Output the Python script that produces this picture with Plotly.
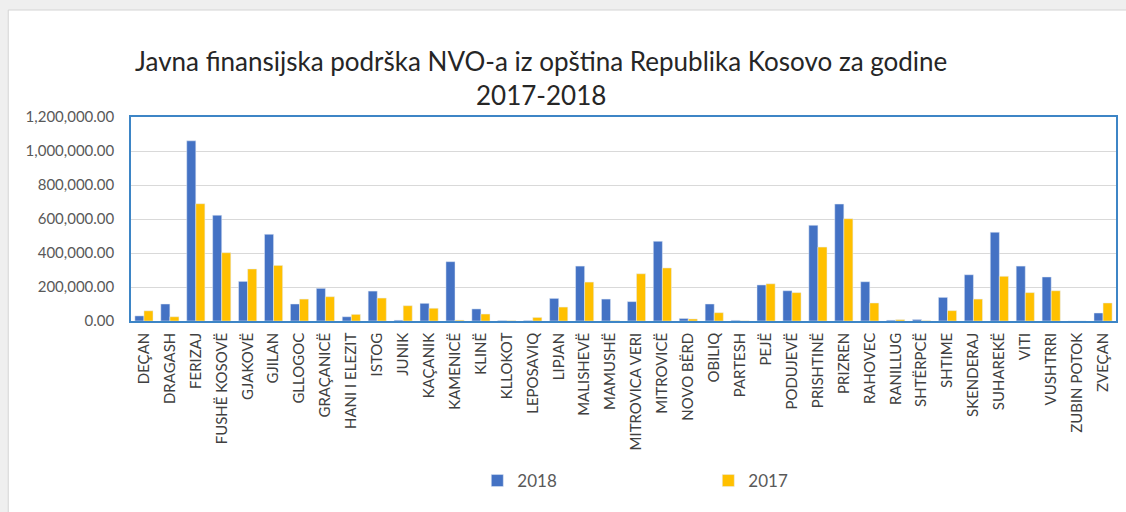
import plotly.graph_objects as go

categories = ["DEÇAN", "DRAGASH", "FERIZAJ", "FUSHË KOSOVË", "GJAKOVË", "GJILAN", "GLLOGOC",
              "GRAÇANICË", "HANI I ELEZIT", "ISTOG", "JUNIK", "KAÇANIK", "KAMENICË", "KLINË",
              "KLLOKOT", "LEPOSAVIQ", "LIPJAN", "MALISHEVË", "MAMUSHË", "MITROVICA VERI",
              "MITROVICË", "NOVO BËRD", "OBILIQ", "PARTESH", "PEJË", "PODUJEVË", "PRISHTINË",
              "PRIZREN", "RAHOVEC", "RANILLUG", "SHTËRPCË", "SHTIME", "SKENDERAJ", "SUHAREKË",
              "VITI", "VUSHTRRI", "ZUBIN POTOK", "ZVEÇAN"]

values_2018 = [30000, 100000, 1060000, 622000, 233000, 510000, 100000,
               192000, 25000, 176000, 5000, 104000, 349000, 71000,
               3000, 3000, 133000, 323000, 129000, 114000,
               469000, 15000, 100000, 4000, 212000, 178000, 563000,
               688000, 231000, 5000, 9000, 139000, 272000, 522000,
               323000, 259000, 0, 47000]

values_2017 = [60000, 25000, 690000, 402000, 306000, 327000, 129000,
               143000, 39000, 135000, 90000, 75000, 5000, 41000,
               2000, 21000, 82000, 229000, 2000, 278000,
               312000, 12000, 49000, 1000, 219000, 167000, 435000,
               602000, 106000, 8000, 2000, 61000, 129000, 263000,
               167000, 178000, 0, 106000]

y_ticks = [0, 200000, 400000, 600000, 800000, 1000000, 1200000]

FONT = "Lato"

fig = go.Figure()
fig.add_trace(go.Bar(name="2018", x=categories, y=values_2018, marker_color="#4472c4"))
fig.add_trace(go.Bar(name="2017", x=categories, y=values_2017, marker_color="#ffc000"))

W, H = 1126, 512
L, R, T, B = 131, 8, 117, 191
pw = W - L - R
ph = H - T - B

def px_x(p):
    return (p - L) / pw

def px_y(p):
    return (H - B - p) / ph

fig.update_layout(
    width=W, height=H,
    margin=dict(l=L, r=R, t=T, b=B),
    paper_bgcolor="#efefef",
    plot_bgcolor="white",
    barmode="group",
    bargap=0.3,
    bargroupgap=0,
    font=dict(family=FONT, color="#595959"),
    title=dict(
        text="Javna finansijska podrška NVO-a iz opština Republika Kosovo za godine<br>2017-2018",
        x=px_x(542), xref="paper", xanchor="center",
        y=1 - 71 / H, yref="container", yanchor="middle",
        font=dict(family=FONT, size=26, color="#262626"),
    ),
    xaxis=dict(
        tickangle=-90,
        tickfont=dict(family=FONT, size=15, color="#404040"),
        showline=True, linecolor="#3d85c6", linewidth=1.5, mirror=True,
        ticks="", showgrid=False,
        ticklabelstandoff=4,
    ),
    yaxis=dict(
        range=[0, 1200000],
        tickvals=y_ticks,
        tickformat=",.2f",
        tickfont=dict(family=FONT, size=15, color="#595959"),
        showline=True, linecolor="#3d85c6", linewidth=1.5, mirror=True,
        gridcolor="#d9d9d9", gridwidth=1,
        ticks="", zeroline=False,
        ticklabelstandoff=12,
    ),
    legend=dict(
        orientation="h",
        x=px_x(478), xanchor="left",
        y=px_y(481), yanchor="middle",
        entrywidth=186, entrywidthmode="pixels",
        itemwidth=30,
        font=dict(family=FONT, size=17, color="#595959"),
        bgcolor="rgba(0,0,0,0)",
    ),
    shapes=[
        dict(type="rect", xref="paper", yref="paper", layer="below",
             x0=px_x(8), x1=px_x(W + 5), y0=px_y(H + 5), y1=px_y(10),
             fillcolor="white", line=dict(color="#d4d4d4", width=1)),
    ],
)

fig.write_html("out.html", config={"displayModeBar": False},
               post_script="document.body.style.margin='0';")
